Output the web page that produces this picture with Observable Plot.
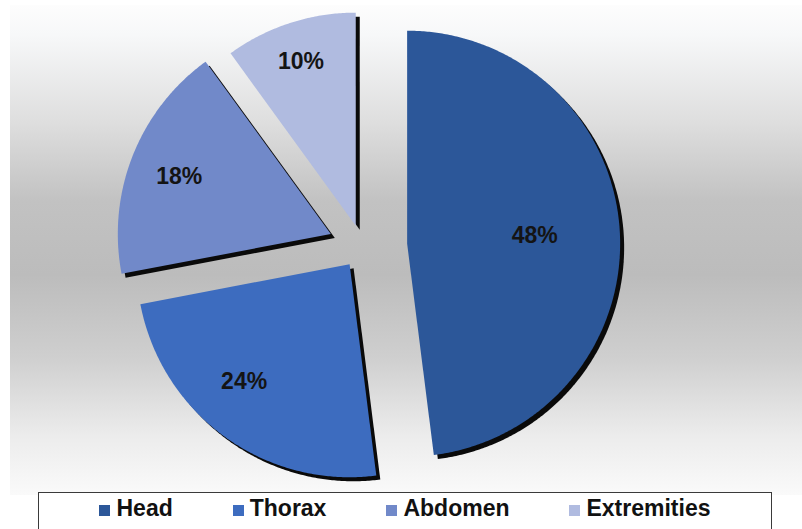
<!DOCTYPE html>
<html>
<head>
<meta charset="utf-8">
<script src="https://cdn.jsdelivr.net/npm/d3@7"></script>
<script src="https://cdn.jsdelivr.net/npm/@observablehq/plot@0.6"></script>
<style>
  html, body { margin: 0; padding: 0; background: #ffffff; }
  body { width: 802px; height: 529px; overflow: hidden; position: relative;
         font-family: "Liberation Sans", Arial, sans-serif; }
  #bg { position: absolute; left: 10px; top: 5px; width: 792px; height: 490px;
        background: linear-gradient(to bottom, #fdfdfd 0%, #f7f8f9 6%, #dedede 24%, #c2c2c2 40%,
                    #bcbcbc 55%, #cfcfcf 72%, #ececec 88%, #fafafa 100%); }
  #chart { position: absolute; left: 0; top: 0; }
  #legend { position: absolute; left: 38px; top: 492px; width: 734px; height: 50px;
            box-sizing: border-box; border: 1px solid #3a3a3a; background: #ffffff;
            display: flex; justify-content: center; gap: 60px; padding-top: 4px;
            font-size: 23px; line-height: 23px; font-weight: bold; color: #111; }
  .item { white-space: nowrap; }
  .sw { display: inline-block; width: 11px; height: 11px; margin-right: 6px; vertical-align: baseline; }
</style>
</head>
<body>
<div id="bg"></div>
<div id="chart"></div>
<div id="legend"></div>
<script>
// ---- data ----
const categories = ["Head", "Thorax", "Abdomen", "Extremities"];
const percents = [48, 24, 18, 10];
const colors = ["#2c5799", "#3d6cbf", "#7189c9", "#b0bbe0"];

// ---- layout (pixels / fractions of radius) ----
const W = 802, H = 490, R = 213, cx = 362, cy = 246;
const shadowPx = 4;
const shadowColor = "#0a0a0a";
const explode = {Head: 0.21, Thorax: 0.103, Abdomen: 0.16, Extremities: 0.103};
const labelPlace = {Head: [0.6, 0], Thorax: [0.74, 6], Abdomen: [0.76, -1], Extremities: [0.81, -0.5]};

const pie = d3.pie().sort(null).value(d => d)(percents);
const slices = pie.map((p, i) => {
  const cat = categories[i];
  const mid = (p.startAngle + p.endAngle) / 2;
  const e = explode[cat];
  const ox = e * Math.sin(mid), oy = -e * Math.cos(mid);
  const pts = [{cat, x: ox, y: oy}];
  const n = Math.max(2, Math.ceil((p.endAngle - p.startAngle) / (Math.PI / 360)));
  for (let k = 0; k <= n; k++) {
    const a = p.startAngle + (p.endAngle - p.startAngle) * k / n;
    pts.push({cat, x: ox + Math.sin(a), y: oy - Math.cos(a)});
  }
  const [f, da] = labelPlace[cat];
  const la = mid + da * Math.PI / 180;
  const label = {cat, x: ox + f * Math.sin(la), y: oy - f * Math.cos(la), text: percents[i] + "%"};
  return {cat, color: colors[i], pts, label};
});

const off = shadowPx / R;
const marks = [];
for (const s of slices) {
  marks.push(Plot.line(s.pts, {x: d => d.x + off, y: d => d.y + off, fill: shadowColor, stroke: "none",
    curve: "linear-closed"}));
}
for (const s of slices) {
  marks.push(Plot.line(s.pts, {x: "x", y: "y", fill: s.color, stroke: "none", curve: "linear-closed"}));
}
marks.push(Plot.text(slices.map(s => s.label), {x: "x", y: "y", text: "text", fontSize: 23,
  fontWeight: "bold", fill: "#141414", fontFamily: "Liberation Sans, Arial, sans-serif"}));

const chart = Plot.plot({
  width: W, height: H, margin: 0,
  x: {domain: [(0 - cx) / R, (W - cx) / R], range: [0, W], axis: null},
  y: {domain: [(0 - cy) / R, (H - cy) / R], range: [0, H], axis: null},
  style: {background: "transparent", overflow: "visible", fontFamily: "Liberation Sans, Arial, sans-serif"},
  marks
});
chart.querySelectorAll('g[fill="' + shadowColor + '"]').forEach(g => g.style.filter = "blur(0.6px)");
document.getElementById("chart").appendChild(chart);

// legend
const legend = document.getElementById("legend");
categories.forEach((c, i) => {
  const item = document.createElement("span");
  item.className = "item";
  const sw = document.createElement("span");
  sw.className = "sw";
  sw.style.background = colors[i];
  item.appendChild(sw);
  item.appendChild(document.createTextNode(c));
  legend.appendChild(item);
});
</script>
</body>
</html>
